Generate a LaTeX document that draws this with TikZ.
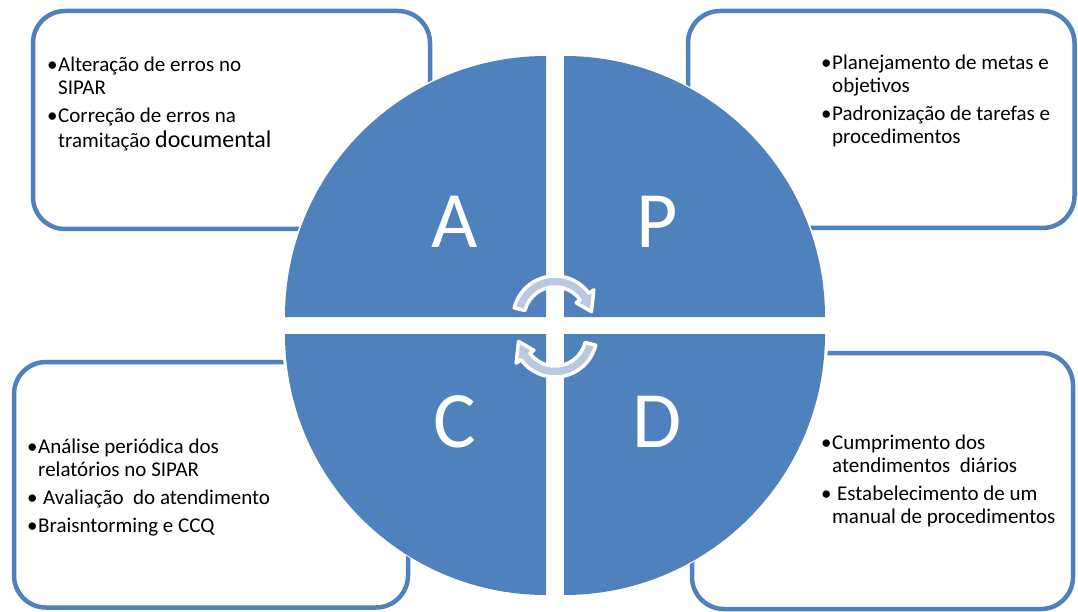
\documentclass[tikz,border=0pt]{standalone}
\usepackage{fontspec}
\setmainfont{Carlito}
\definecolor{pdcablue}{HTML}{4F81BD}
\definecolor{arrowfill}{HTML}{BAC8E1}
\newcommand{\bul}{\makebox[11pt][l]{•}}
\newcommand{\ind}{\hspace*{11pt}}
\begin{document}
\begin{tikzpicture}[x=1pt,y=1pt,
  boxline/.style={draw=pdcablue, line width=4.5pt, rounded corners=32pt, inner sep=0pt, fill=none},
  quad/.style={fill=pdcablue},
  letter/.style={text=white, font=\fontsize{80}{90}\selectfont, inner sep=0pt, anchor=center},
  txt/.style={anchor=base west, align=left, inner sep=0pt, text=black, font=\fontsize{21}{23}\selectfont},
  cycarrow/.style={fill=arrowfill, draw=white, line width=3.5pt, line join=round}
]
\useasboundingbox (0,0) rectangle (1078,-612);
\fill[white] (0,0) rectangle (1078,-612);

% outer boxes
\node[boxline, minimum width=397pt, minimum height=218pt] (boxA) at (231.5,-120) {};
\node[boxline, minimum width=386.5pt, minimum height=217pt] (boxP) at (881.25,-119.5) {};
\node[boxline, minimum width=394pt, minimum height=245.5pt] (boxC) at (211,-484.75) {};
\node[boxline, minimum width=381pt, minimum height=256pt] (boxD) at (882.5,-481) {};

% white halo around the circle
\fill[white] (555,-325.5) circle (274pt);

% quadrants
\fill[quad] (546,-317) -- ++(180:261) arc[start angle=180, end angle=90, radius=261pt] -- cycle;
\fill[quad] (564,-317) -- ++(0:261) arc[start angle=0, end angle=90, radius=261pt] -- cycle;
\fill[quad] (546,-334) -- ++(180:261) arc[start angle=180, end angle=270, radius=261pt] -- cycle;
\fill[quad] (564,-334) -- ++(0:261) arc[start angle=0, end angle=-90, radius=261pt] -- cycle;

% letters
\node[letter] (lA) at (455,-222) {A};
\node[letter] (lP) at (657,-222) {P};
\node[letter] (lC) at (455,-422) {C};
\node[letter] (lD) at (657,-422) {D};

% circular arrows
\begin{scope}[shift={(555,-318)}]
  \path[cycarrow] (166:42) arc[start angle=166, end angle=36, radius=42pt]
    -- (36:48) -- (10:37) -- (36:26) -- (36:31)
    arc[start angle=36, end angle=166, radius=31pt] -- cycle;
\end{scope}
\begin{scope}[shift={(555,-335)}]
  \path[cycarrow] (-14:42) arc[start angle=-14, end angle=-144, radius=42pt]
    -- (-144:48) -- (-170:37) -- (-144:26) -- (-144:31)
    arc[start angle=-144, end angle=-14, radius=31pt] -- cycle;
\end{scope}

% texts (anchor = baseline of the last line)
\node[txt] (tA) at (47,-148) {\bul Alteração de erros no\\ \ind SIPAR\\[5.5pt] \bul Correção de erros na\\[2pt] \ind tramitação {\fontsize{24}{26}\selectfont documental}};
\node[txt] (tP) at (821,-144) {\bul Planejamento de metas e\\ \ind objetivos\\[5pt] \bul Padronização de tarefas e\\ \ind procedimentos};
\node[txt] (tC) at (27,-532) {\bul Análise periódica dos\\ \ind relatórios no SIPAR\\[4.5pt] \bul\hspace*{5pt}Avaliação\ \ do atendimento\\[5pt] \bul Braisntorming e CCQ};
\node[txt] (tD) at (821,-523) {\bul Cumprimento dos\\ \ind atendimentos\ \ diários\\[5pt] \bul\hspace*{5pt}Estabelecimento de um\\ \ind manual de procedimentos};
\end{tikzpicture}
\end{document}
